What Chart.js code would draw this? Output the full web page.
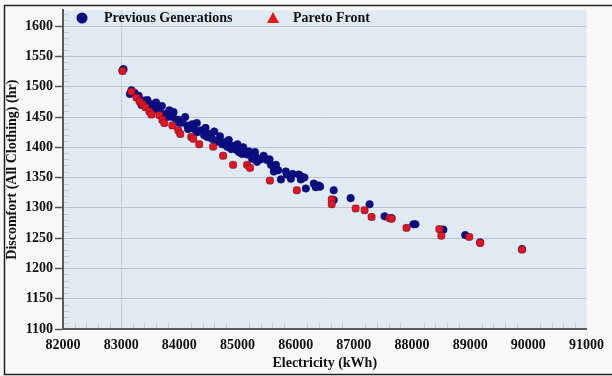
<!DOCTYPE html>
<html>
<head>
<meta charset="utf-8">
<script src="https://cdn.jsdelivr.net/npm/chart.js@4.4.1/dist/chart.umd.min.js"></script>
<style>
  html, body { margin: 0; padding: 0; background: #f8f8f6; }
  #wrap { width: 612px; height: 376px; }
</style>
</head>
<body>
<div id="wrap"><canvas id="chartPareto" width="612" height="376"></canvas></div>
<script>
// values
const seriesNames = ['Previous Generations', 'Pareto Front']
const xTicks = [82000, 83000, 84000, 85000, 86000, 87000, 88000, 89000, 90000, 91000]
const yTicks = [1100, 1150, 1200, 1250, 1300, 1350, 1400, 1450, 1500, 1550, 1600]

const prevX = [83040, 83177, 83228, 83348, 83400, 83451, 83519, 83571, 83537, 83622,
  83656, 83742, 83828, 83794, 83879, 83948, 83999, 84050, 84136, 84222,
  84256, 84307, 84376, 84427, 84479, 84513, 84564, 84633, 84684, 84736,
  84804, 84821, 84890, 84941, 84976, 85027, 85061, 85078, 85147, 85164,
  85232, 85250, 85318, 85335, 85369, 85421, 85506, 85575, 85626, 85661,
  85626, 85746, 85832, 85849, 85918, 86055, 86089, 86089, 86175, 86312,
  86346, 86397, 86654, 86654, 86945, 87271, 87528, 88025, 88059, 88539,
  88915, 89892, 89172, 87648, 83023,
  83300, 83450, 83600, 83700, 83900, 84100, 84300, 84450, 84600, 84700,
  84850, 85000, 85100, 85300, 85450, 85550, 83350, 83480, 83750, 84000,
  84150, 84550, 84900, 85200, 83150, 85700, 85950, 86150, 86420]
const prevY = [1529, 1494, 1490, 1477, 1477, 1471, 1471, 1471, 1466, 1463,
  1458, 1454, 1461, 1450, 1450, 1446, 1445, 1441, 1436, 1438,
  1430, 1425, 1428, 1420, 1417, 1422, 1414, 1409, 1412, 1405,
  1409, 1401, 1397, 1402, 1396, 1392, 1397, 1389, 1392, 1388,
  1388, 1381, 1384, 1376, 1379, 1381, 1379, 1371, 1366, 1371,
  1360, 1347, 1360, 1355, 1348, 1355, 1347, 1352, 1332, 1340,
  1334, 1337, 1329, 1313, 1316, 1306, 1286, 1273, 1273, 1264,
  1255, 1232, 1243, 1283, 1527,
  1485, 1478, 1474, 1468, 1458, 1450, 1440, 1432, 1426, 1418,
  1412, 1405, 1400, 1392, 1386, 1380, 1470, 1465, 1455, 1440,
  1430, 1415, 1402, 1393, 1488, 1362, 1356, 1350, 1335]

const paretoX = [83023, 83177, 83262, 83314, 83365, 83417, 83485, 83519, 83656, 83708,
  83742, 83879, 83982, 84016, 84205, 84239, 84342, 84582, 84753, 84924,
  85164, 85215, 85558, 86020, 86620, 86620, 87031, 87185, 87305, 87614,
  87648, 87905, 88470, 88504, 88984, 89172, 89892]
const paretoY = [1526, 1492, 1482, 1476, 1471, 1466, 1459, 1454, 1453, 1445,
  1440, 1436, 1428, 1422, 1417, 1414, 1405, 1401, 1386, 1371,
  1371, 1366, 1345, 1329, 1314, 1306, 1299, 1296, 1285, 1283,
  1282, 1267, 1265, 1254, 1252, 1242, 1231]

const toPoints = (xs, ys) => xs.map((x, i) => ({x: x, y: ys[i]}))

const serif = 'Liberation Serif'
const navy = '#0b0c7e'
const red = '#e3161f'

// frame, plot background and small minor ticks
const backdrop = {
  id: 'backdrop',
  beforeDraw(chart) {
    const {ctx, chartArea: a, width, height} = chart
    ctx.save()
    ctx.fillStyle = '#f8f8f6'
    ctx.fillRect(0, 0, width, height)
    ctx.fillStyle = '#dfeaf3'
    ctx.fillRect(a.left, a.top, a.right - a.left, a.bottom - a.top)
    ctx.strokeStyle = '#222'
    ctx.lineWidth = 1.5
    ctx.strokeRect(4.5, 5.5, width + 10, 369)
    ctx.restore()
  },
  beforeDatasetsDraw(chart) {
    const {ctx, chartArea: a, scales} = chart
    ctx.save()
    ctx.strokeStyle = '#c3cdd5'
    ctx.lineWidth = 1
    ctx.beginPath()
    for (let v = 1110; v < 1626; v += 10) {
      if (v % 50 === 0) continue
      const y = Math.round(scales.y.getPixelForValue(v)) + 0.5
      ctx.moveTo(a.left + 1, y)
      ctx.lineTo(a.left + 6, y)
    }
    for (let v = 82200; v < 91000; v += 200) {
      if (v % 1000 === 0) continue
      const x = Math.round(scales.x.getPixelForValue(v)) + 0.5
      ctx.moveTo(x, a.bottom - 1)
      ctx.lineTo(x, a.bottom - 6)
    }
    ctx.stroke()
    ctx.restore()
  }
}

// legend drawn inside the plot, like the original
const innerLegend = {
  id: 'innerLegend',
  afterDraw(chart) {
    const ctx = chart.ctx
    const ds = chart.data.datasets
    ctx.save()
    ctx.font = 'bold 14px "' + serif + '"'
    ctx.textBaseline = 'middle'
    ctx.fillStyle = ds[0].backgroundColor
    ctx.beginPath()
    ctx.arc(82, 18, 5.5, 0, Math.PI * 2)
    ctx.fill()
    ctx.fillStyle = '#111'
    ctx.fillText(ds[0].label, 104, 18)
    ctx.fillStyle = ds[1].backgroundColor
    ctx.beginPath()
    ctx.moveTo(273, 12)
    ctx.lineTo(279, 23)
    ctx.lineTo(267, 23)
    ctx.closePath()
    ctx.fill()
    ctx.fillStyle = '#111'
    ctx.fillText(ds[1].label, 293, 18)
    ctx.restore()
  }
}

const graphic = document.getElementById('chartPareto')
let chartPareto = new Chart(graphic, {
  type: 'scatter',
  data: {
    datasets: [{
      label: seriesNames[0],
      data: toPoints(prevX, prevY),
      backgroundColor: navy,
      borderColor: navy,
      pointRadius: 3.8,
      pointBorderWidth: 0.5,
      order: 2
    }, {
      label: seriesNames[1],
      data: toPoints(paretoX, paretoY),
      backgroundColor: red,
      borderColor: '#8a1030',
      pointStyle: 'rectRounded',
      pointRadius: 4,
      pointBorderWidth: 0.8,
      order: 1
    }]
  },
  options: {
    responsive: false,
    animation: false,
    layout: {
      padding: {top: 7, right: 23, left: 0, bottom: 0}
    },
    plugins: {
      legend: {display: false},
      tooltip: {enabled: false}
    },
    scales: {
      x: {
        type: 'linear',
        min: 82000,
        max: 91000,
        afterBuildTicks: s => { s.ticks = xTicks.map(v => ({value: v})) },
        afterFit: s => { s.height = 47 },
        ticks: {
          callback: v => String(v),
          color: '#111',
          padding: 8,
          maxRotation: 0,
          font: {family: serif, size: 14, weight: 'bold'}
        },
        grid: {
          color: c => (c.tick && c.tick.value === 83000) ? '#c2ccd5' : 'rgba(0,0,0,0)',
          drawTicks: false
        },
        border: {display: true, color: '#5a5a5a', width: 2},
        title: {
          display: true,
          text: 'Electricity (kWh)',
          color: '#111',
          font: {family: serif, size: 14, weight: 'bold'},
          padding: {top: 4, bottom: 4}
        }
      },
      y: {
        type: 'linear',
        min: 1100,
        max: 1626,
        afterBuildTicks: s => { s.ticks = yTicks.map(v => ({value: v})) },
        afterFit: s => { s.width = 63 },
        ticks: {
          callback: v => String(v),
          color: '#111',
          padding: 2,
          font: {family: serif, size: 14, weight: 'bold'}
        },
        grid: {
          color: '#b9c5ce',
          lineWidth: 1,
          drawTicks: true,
          tickLength: 8,
          tickColor: '#555',
          tickWidth: 1.5
        },
        border: {display: true, color: '#5a5a5a', width: 2},
        title: {
          display: true,
          text: 'Discomfort (All Clothing) (hr)',
          color: '#111',
          font: {family: serif, size: 14, weight: 'bold'},
          padding: {top: 4, bottom: 2}
        }
      }
    }
  },
  plugins: [backdrop, innerLegend]
})
</script>
</body>
</html>
